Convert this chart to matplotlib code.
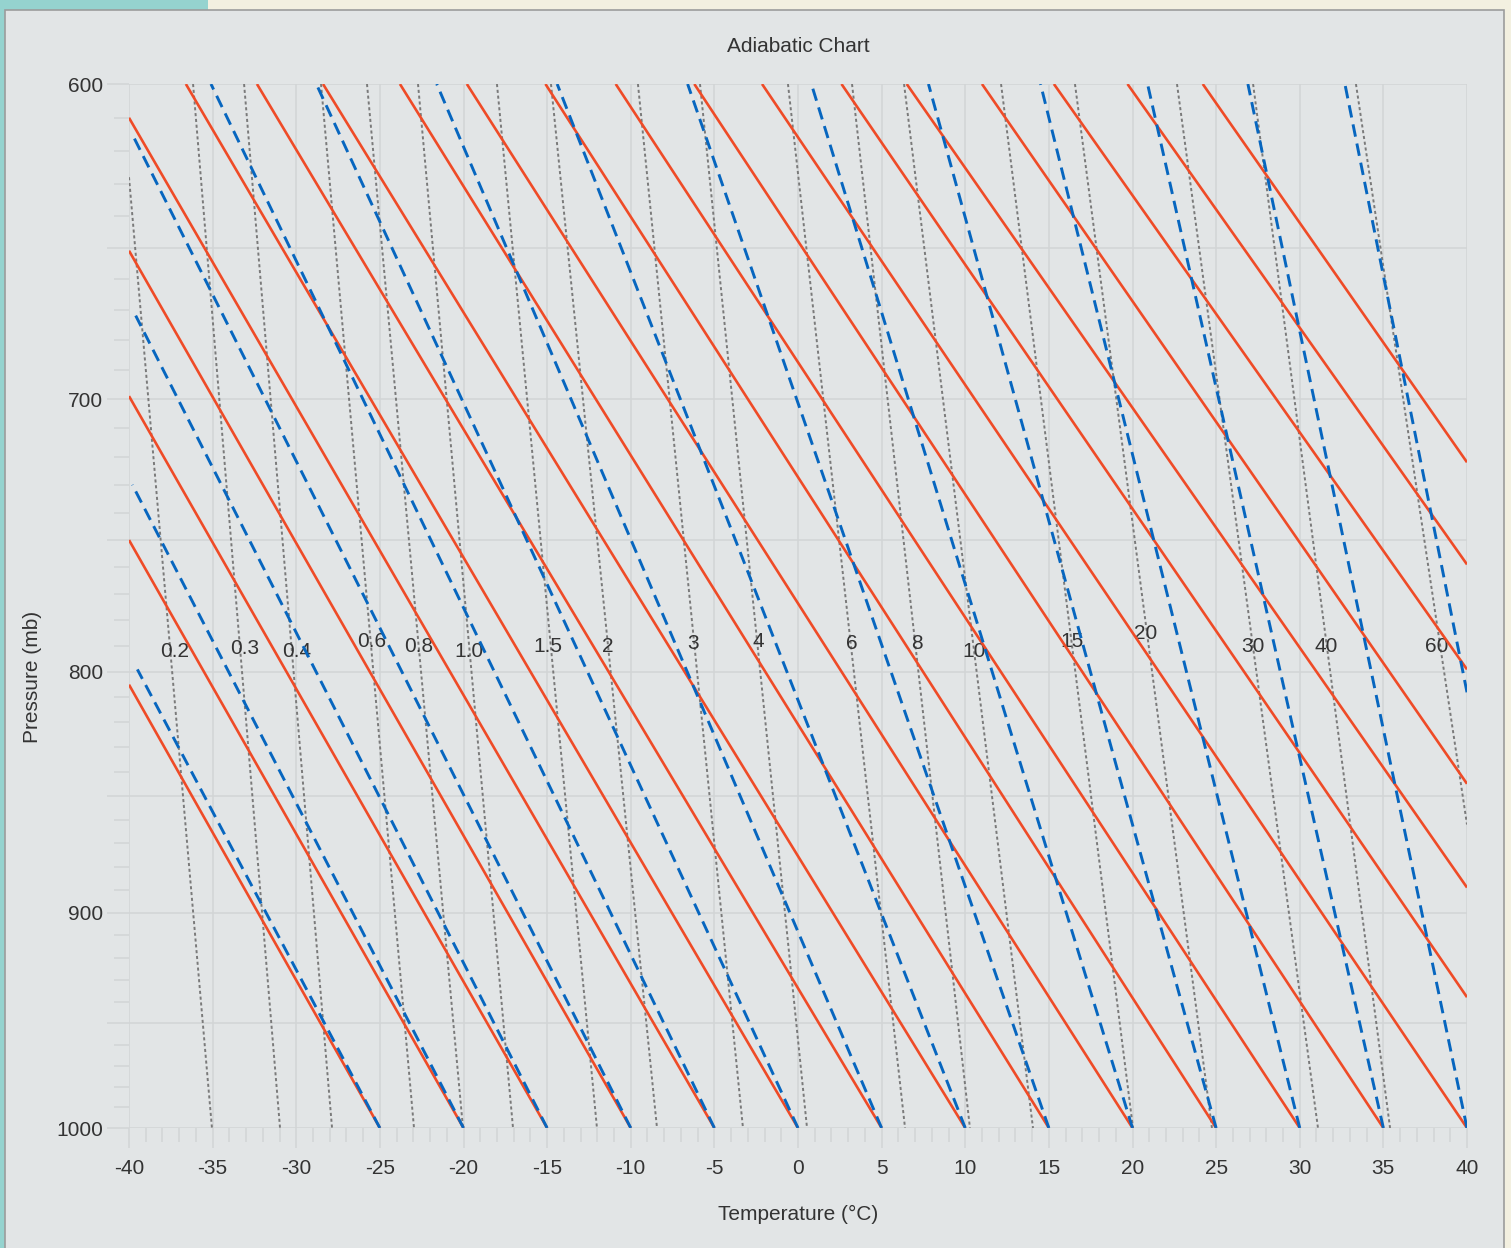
import matplotlib
matplotlib.use('Agg')
import matplotlib.pyplot as plt
from matplotlib.patches import Rectangle
from matplotlib.ticker import FixedLocator, FuncFormatter, NullFormatter, MultipleLocator

plt.rcParams['font.family'] = ['Liberation Sans', 'DejaVu Sans']
plt.rcParams['axes.unicode_minus'] = False

# dry adiabats (red): first and last point of each line
red_start_T = [-40, -40, -40, -40, -40, -36.6, -32.35, -28.4, -23.8, -19.8, -15.1, -10.9, -6.2, -2.15,
               2.6, 6.5, 11.0, 15.3, 19.7, 24.2]
red_start_p = [805, 750, 699, 651, 610] + [600] * 15
red_end_T = [-25, -20, -15, -10, -5, 0, 5, 10, 15, 20, 25, 30, 35, 40, 40, 40, 40, 40, 40, 40]
red_end_p = [1000] * 14 + [938, 889, 845, 799, 759, 722]

# moist adiabats (blue dashed)
blue_start_T = [-39.5, -39.8, -39.6, -39.8, -35.1, -28.8, -21.6, -14.4, -6.6, 0.8, 7.8, 14.5, 20.9, 26.9, 32.7]
blue_start_p = [799, 730, 672, 615] + [600] * 11
blue_end_T = [-25, -20, -15, -10, -5, 0, 5, 10, 15, 20, 25, 30, 35, 40, 40]
blue_end_p = [1000] * 14 + [808]

# mixing ratio lines (grey dotted), g/kg
mix_labels = ['0.2', '0.3', '0.4', '0.6', '0.8', '1.0', '1.5', '2', '3', '4', '6', '8', '10', '15', '20', '30', '40', '60']
mix_top_T = [-40, -36.17, -33.12, -28.52, -25.77, -22.72, -18.0, -14.77, -9.57, -5.86, -0.6, 3.23, 6.34,
             12.14, 16.56, 22.66, 27.21, 33.36]
mix_top_p = [628] + [600] * 17
mix_bot_T = [-35.04, -30.97, -27.86, -22.96, -20.03, -17.04, -12.02, -8.43, -3.29, 0.54, 6.40, 10.28, 14.05,
             20.03, 24.75, 31.09, 35.40, 40]
mix_bot_p = [1000] * 17 + [862]
label_T = [-37.3, -33.1, -30.0, -25.5, -22.7, -19.7, -14.95, -11.4, -6.3, -2.4, 3.2, 7.1, 10.5,
           16.4, 20.8, 27.2, 31.6, 38.2]
label_p = [792, 791, 792, 788, 790, 792, 790, 790, 789, 788, 789, 789, 792, 788, 785, 790, 790, 790]

RED = '#EF4B27'
BLUE = '#0766BF'
GREY = '#7A7A7A'
GRID = '#D2D5D6'
TXT = '#333333'
FS = 15

fig = plt.figure(figsize=(15.11, 12.48), dpi=100)
fig.patch.set_facecolor('#F3F0E0')
W, H = 1511, 1248
fig.patches.append(Rectangle((0, 1 - 10 / H), 208 / W, 10 / H, transform=fig.transFigure,
                             facecolor='#95D3CF', edgecolor='none', zorder=-10))
fig.patches.append(Rectangle((0, 0), 5 / W, 1, transform=fig.transFigure,
                             facecolor='#95D3CF', edgecolor='none', zorder=-10))
fig.patches.append(Rectangle((5 / W, -0.01), 1499 / W, 1 - 10 / H + 0.01, transform=fig.transFigure,
                             facecolor='#E2E5E6', edgecolor='#9C9C9C', lw=1.2, zorder=-9))

ax = fig.add_axes([129 / W, 1 - 1128 / H, 1338 / W, 1044 / H])
ax.set_facecolor('#E2E5E6')
for s in ax.spines.values():
    s.set_visible(False)

for sT, sp, eT, ep in zip(mix_top_T, mix_top_p, mix_bot_T, mix_bot_p):
    ax.plot([sT, eT], [sp, ep], color=GREY, lw=1.4, linestyle=(0, (1.6, 1.4)), zorder=2)
for sT, sp, eT, ep in zip(red_start_T, red_start_p, red_end_T, red_end_p):
    ax.plot([sT, eT], [sp, ep], color=RED, lw=1.9, solid_capstyle='butt', zorder=3)
for sT, sp, eT, ep in zip(blue_start_T, blue_start_p, blue_end_T, blue_end_p):
    ax.plot([eT, sT], [ep, sp], color=BLUE, lw=2.1, linestyle=(0, (4.3, 2.4)), zorder=4)

for lab, t, p in zip(mix_labels, label_T, label_p):
    ax.text(t, p, lab, ha='center', va='center', fontsize=FS, color=TXT, zorder=2.5)

ax.set_yscale('log')
ax.set_xlim(-40, 40)
ax.set_ylim(1000, 600)

ax.xaxis.set_major_locator(MultipleLocator(5))
ax.xaxis.set_minor_locator(MultipleLocator(1))
ax.yaxis.set_major_locator(FixedLocator(list(range(600, 1001, 50))))
ax.yaxis.set_major_formatter(FuncFormatter(lambda v, pos: str(int(round(v))) if round(v) % 100 == 0 else ''))
ax.yaxis.set_minor_locator(FixedLocator([p for p in range(600, 1001, 10) if p % 50]))
ax.yaxis.set_minor_formatter(NullFormatter())

ax.set_axisbelow(True)
ax.grid(which='major', color=GRID, lw=1.1)
ax.tick_params(axis='x', which='major', length=14.5, width=1.1, color=GRID, pad=8,
               labelsize=FS, labelcolor=TXT)
ax.tick_params(axis='x', which='minor', length=10, width=1.1, color=GRID)
ax.tick_params(axis='y', which='major', length=15.5, width=1.1, color=GRID, pad=3,
               labelsize=FS, labelcolor=TXT)
ax.tick_params(axis='y', which='minor', length=10.5, width=1.1, color=GRID)

ax.set_title('Adiabatic Chart', fontsize=FS, color=TXT, y=1 + 38 / 1044, pad=0, va='center')
ax.set_xlabel('Temperature (°C)', fontsize=FS, color=TXT, va='center')
ax.xaxis.set_label_coords(0.5, -86 / 1044)
ax.set_ylabel('Pressure (mb)', fontsize=FS, color=TXT, va='center')
ax.yaxis.set_label_coords(-96 / 1338, 451 / 1044)

plt.savefig('out.png', dpi=100, facecolor=fig.get_facecolor())
